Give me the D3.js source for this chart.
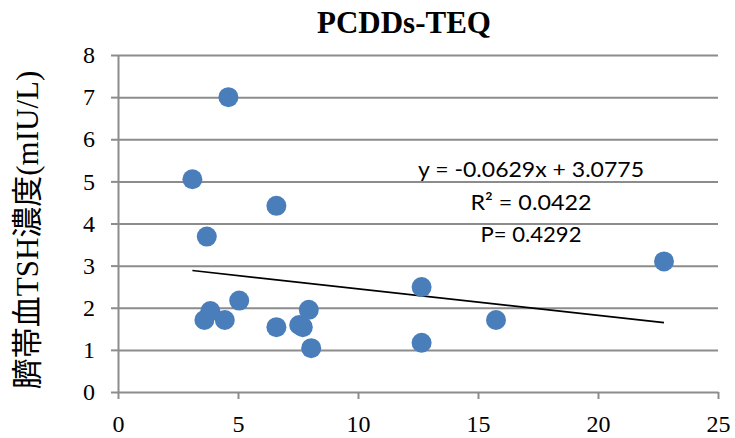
<!DOCTYPE html>
<html>
<head>
<meta charset="utf-8">
<style>
body { margin: 0; background: #fff; }
.grid line { stroke: #8c8c8c; stroke-width: 2; }
.grid path { display: none; }
.axis path, .axis line { stroke: #8c8c8c; stroke-width: 2; }
.axis text { font-family: "Liberation Serif", "Times New Roman", serif; font-size: 24px; fill: #000; }
.dot { fill: #4a7ebb; }
.trend { stroke: #000; stroke-width: 1.6; fill: none; }
.eq { font-family: Lato, "Open Sans", sans-serif; font-size: 22px; fill: #000; }
</style>
</head>
<body>
<svg id="thevis" width="735" height="438"></svg>
<script src="https://cdn.jsdelivr.net/npm/d3@7"></script>
<script>
// values
var xVals = [4.6, 3.1, 6.6, 3.7, 3.85, 3.6, 4.45, 5.05, 6.6, 7.55, 7.7, 7.95, 8.05, 12.65, 12.65, 15.75, 22.75];
var yVals = [7.0, 5.05, 4.42, 3.69, 1.92, 1.71, 1.71, 2.17, 1.54, 1.59, 1.54, 1.95, 1.04, 2.49, 1.17, 1.71, 3.10];
var xTicks = [0, 5, 10, 15, 20, 25];
var yTicks = [0, 1, 2, 3, 4, 5, 6, 7, 8];
var slope = -0.0629, intercept = 3.0775;
var eqLines = ["y = -0.0629x + 3.0775", "R² = 0.0422", "P= 0.4292"];
var title = "PCDDs-TEQ";
var yTitle = "臍帯血TSH濃度(mIU/L)";

var svg = d3.select("svg");
var margin = {top: 55, right: 17, bottom: 46, left: 118};
var width = +svg.attr("width") - margin.left - margin.right;
var height = +svg.attr("height") - margin.top - margin.bottom;

var x = d3.scaleLinear().domain([0, 25]).range([0, width]);
var y = d3.scaleLinear().domain([0, 8]).range([height, 0]);

var g = svg.append("g")
    .attr("transform", "translate(" + margin.left + "," + margin.top + ")");

// horizontal gridlines
g.append("g")
    .attr("class", "grid")
    .call(d3.axisLeft(y).tickValues(yTicks.slice(1)).tickSize(-width).tickFormat(""));

g.append("g")
    .attr("class", "axis")
    .call(d3.axisLeft(y).tickValues(yTicks).tickSizeInner(7).tickSizeOuter(0).tickPadding(16));

g.append("g")
    .attr("class", "axis")
    .attr("transform", "translate(0," + height + ")")
    .call(d3.axisBottom(x).tickValues(xTicks).tickSizeInner(7).tickSizeOuter(0).tickPadding(16));

// trendline over the data range
var xr = d3.extent(xVals);
g.append("line")
    .attr("class", "trend")
    .attr("x1", x(xr[0]))
    .attr("y1", y(slope * xr[0] + intercept))
    .attr("x2", x(xr[1]))
    .attr("y2", y(slope * xr[1] + intercept));

g.selectAll(".dot")
    .data(xVals)
    .enter().append("circle")
      .attr("class", "dot")
      .attr("cx", function(d) { return x(d); })
      .attr("cy", function(d, i) { return y(yVals[i]); })
      .attr("r", 10);

var eqWidths = [226, 121, 101];
svg.append("g")
    .selectAll("text")
    .data(eqLines)
    .enter().append("text")
      .attr("class", "eq")
      .attr("x", 531)
      .attr("y", function(d, i) { return 177 + i * 32.7; })
      .attr("text-anchor", "middle")
      .attr("textLength", function(d, i) { return eqWidths[i]; })
      .attr("lengthAdjust", "spacingAndGlyphs")
      .text(function(d) { return d; });

svg.append("text")
    .attr("x", 404)
    .attr("y", 33)
    .attr("text-anchor", "middle")
    .style("font-family", "'Liberation Serif', 'Times New Roman', serif")
    .style("font-weight", "bold")
    .style("font-size", "31px")
    .text(title);

svg.append("text")
    .attr("transform", "translate(38,230) rotate(-90)")
    .attr("text-anchor", "middle")
    .style("font-family", "'Liberation Serif', 'Noto Sans CJK JP', serif")
    .style("font-size", "31px")
    .text(yTitle);
</script>
</body>
</html>
